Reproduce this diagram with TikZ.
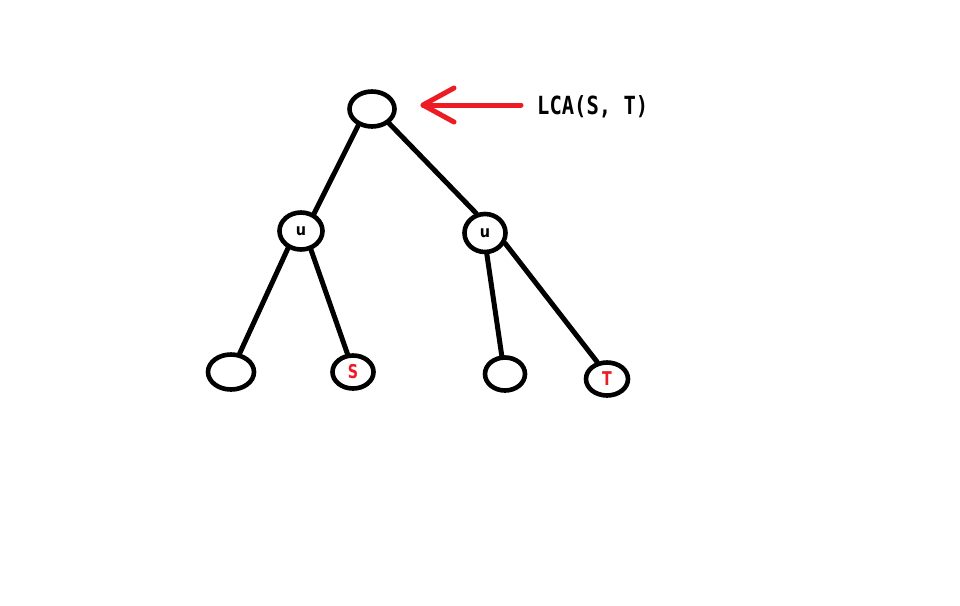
\documentclass[tikz,border=0pt]{standalone}
\usepackage{fontspec}
\usetikzlibrary{shapes.geometric,calc}
\setmainfont{DejaVu Sans}
\newfontfamily\lcafont{DejaVu Sans Mono}
\definecolor{pred}{HTML}{ED1C24}
\begin{document}
\begin{tikzpicture}[x=1pt,y=-1pt,
  tn/.style={draw=black,line width=4.6pt,ellipse,inner sep=0pt},
  edge/.style={line width=5pt,line cap=round},
  ulab/.style={font=\fontsize{16}{16}\selectfont\bfseries},
  rlab/.style={text=pred,font=\fontsize{19}{19}\selectfont\bfseries}]
\useasboundingbox (0,0) rectangle (960,605);
\fill[white] (0,0) rectangle (960,605);
\node[tn,minimum width=45pt,minimum height=35pt] (root) at (372,109) {};
\node[tn,minimum width=43pt,minimum height=37pt,ulab] (ul) at (301,231) {\scalebox{0.9}[1]{u}};
\node[tn,minimum width=41pt,minimum height=38pt,ulab] (ur) at (485,233) {\scalebox{0.9}[1]{u}};
\node[tn,minimum width=46pt,minimum height=35pt] (l1) at (231,372) {};
\node[tn,minimum width=41pt,minimum height=33pt,rlab] (s) at (353,372) {\scalebox{0.75}[1]{S}};
\node[tn,minimum width=40pt,minimum height=33pt] (l3) at (505,374) {};
\node[tn,minimum width=42pt,minimum height=33pt,rlab] (t) at (607,379) {\scalebox{0.75}[1]{T}};
\draw[edge] (root.230) -- (ul.53);
\draw[edge] (root.320) -- (ur.114);
\draw[edge] (ul.233) -- (l1.65);
\draw[edge] (ul.298) -- (s.107);
\draw[edge] (ur.275) -- (l3.100);
\draw[edge] (ur.333) -- (t.120);
\node[anchor=west,inner sep=0pt,font=\lcafont\bfseries\fontsize{25}{25}\selectfont] (lca) at (537,107) {\scalebox{0.82}[1]{LCA(S, T)}};
\coordinate (tip) at (423,105);
\draw[pred,line width=5pt,line cap=round,line join=round] ([xshift=-16pt]lca.west |- tip) -- (tip);
\draw[pred,line width=5pt,line cap=round,line join=round] ($(tip)+(31,-17)$) -- (tip) -- ($(tip)+(31,17)$);
\end{tikzpicture}
\end{document}
